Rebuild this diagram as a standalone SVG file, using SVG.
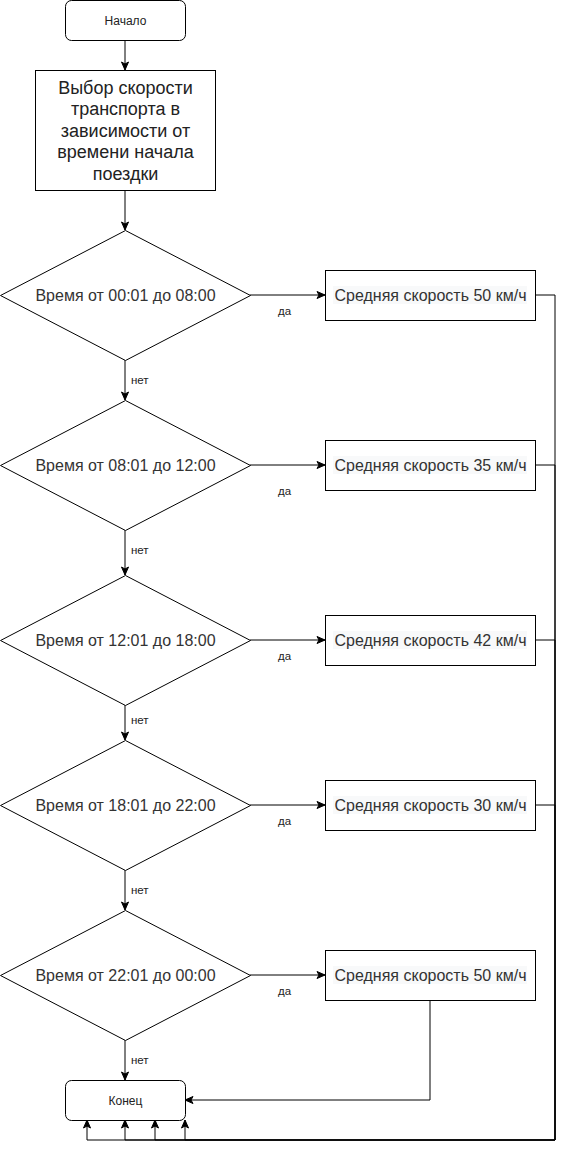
<svg xmlns="http://www.w3.org/2000/svg" width="564" height="1149" viewBox="0 0 564 1149">
<style>
.shape{fill:#fff;stroke:#000;stroke-width:1}
.t{font-family:"Liberation Sans",Arial,sans-serif;fill:#333;text-anchor:middle;dominant-baseline:central}
.big{font-size:16px}
.proc{font-size:18px;fill:#222}
.small{font-size:12px;fill:#222}
.lbl{font-family:"Liberation Sans",Arial,sans-serif;font-size:11.5px;fill:#222;dominant-baseline:central}
.hl{fill:#f8f9fa}
.c{fill:none;stroke:#000;stroke-width:1}
</style>
<defs>
<marker id="arr" markerUnits="userSpaceOnUse" markerWidth="10" markerHeight="10" viewBox="0 0 10 10" refX="9" refY="5" orient="auto">
<path d="M1,1.5 L9,5 L1,8.5 L3,5 Z" fill="#000" stroke="#000" stroke-width="1"/>
</marker>
</defs>
<rect width="564" height="1149" fill="#fff"/>
<g id="connectors">
<path class="c" d="M125,40 V70" marker-end="url(#arr)"/>
<path class="c" d="M125,190 V230" marker-end="url(#arr)"/>
<path class="c" d="M250,295 H325" marker-end="url(#arr)"/>
<path class="c" d="M250,465 H325" marker-end="url(#arr)"/>
<path class="c" d="M250,640 H325" marker-end="url(#arr)"/>
<path class="c" d="M250,805 H325" marker-end="url(#arr)"/>
<path class="c" d="M250,975 H325" marker-end="url(#arr)"/>
<path class="c" d="M125,360 V400" marker-end="url(#arr)"/>
<path class="c" d="M125,530 V575" marker-end="url(#arr)"/>
<path class="c" d="M125,705 V740" marker-end="url(#arr)"/>
<path class="c" d="M125,870 V910" marker-end="url(#arr)"/>
<path class="c" d="M125,1040 V1080" marker-end="url(#arr)"/>
<path class="c" d="M535,295 H555 V1140 H87 V1120" marker-end="url(#arr)"/>
<path class="c" d="M535,465 H555 V1140 H125 V1120" marker-end="url(#arr)"/>
<path class="c" d="M535,640 H555 V1140 H155 V1120" marker-end="url(#arr)"/>
<path class="c" d="M535,805 H555 V1140 H185 V1120" marker-end="url(#arr)"/>
<path class="c" d="M430,1000 V1100 H185" marker-end="url(#arr)"/>
<text class="lbl" x="278" y="311">да</text>
<text class="lbl" x="278" y="491">да</text>
<text class="lbl" x="278" y="656">да</text>
<text class="lbl" x="278" y="821">да</text>
<text class="lbl" x="278" y="991">да</text>
<text class="lbl" x="131" y="380">нет</text>
<text class="lbl" x="131" y="550">нет</text>
<text class="lbl" x="131" y="720">нет</text>
<text class="lbl" x="131" y="890">нет</text>
<text class="lbl" x="131" y="1060">нет</text>
</g>
<g id="start">
<rect class="shape" x="65.5" y="0.5" width="120" height="40" rx="6"/>
<text class="t small" x="125.5" y="20.5">Начало</text>
</g>
<g id="choose">
<rect class="shape" x="35.5" y="70.5" width="180" height="120"/>
<text class="t proc" x="125.5" y="87.5">Выбор скорости</text>
<text class="t proc" x="125.5" y="109">транспорта в</text>
<text class="t proc" x="125.5" y="130.5">зависимости от</text>
<text class="t proc" x="125.5" y="152">времени начала</text>
<text class="t proc" x="125.5" y="173.5">поездки</text>
</g>
<g id="d1">
<path class="shape" d="M125.5,230.5 L250.5,295.5 L125.5,360.5 L0.5,295.5 Z"/>
<text class="t big" x="125.5" y="295.5">Время от 00:01 до 08:00</text>
</g>
<g id="b1">
<rect class="shape" x="325.5" y="270.5" width="210" height="50"/>
<rect class="hl" x="333" y="286" width="194" height="18"/>
<text class="t big" x="430.5" y="295.5">Средняя скорость 50 км/ч</text>
</g>
<g id="d2">
<path class="shape" d="M125.5,400.5 L250.5,465.5 L125.5,530.5 L0.5,465.5 Z"/>
<text class="t big" x="125.5" y="465.5">Время от 08:01 до 12:00</text>
</g>
<g id="b2">
<rect class="shape" x="325.5" y="440.5" width="210" height="50"/>
<rect class="hl" x="333" y="456" width="194" height="18"/>
<text class="t big" x="430.5" y="465.5">Средняя скорость 35 км/ч</text>
</g>
<g id="d3">
<path class="shape" d="M125.5,575.5 L250.5,640.5 L125.5,705.5 L0.5,640.5 Z"/>
<text class="t big" x="125.5" y="640.5">Время от 12:01 до 18:00</text>
</g>
<g id="b3">
<rect class="shape" x="325.5" y="615.5" width="210" height="50"/>
<rect class="hl" x="333" y="631" width="194" height="18"/>
<text class="t big" x="430.5" y="640.5">Средняя скорость 42 км/ч</text>
</g>
<g id="d4">
<path class="shape" d="M125.5,740.5 L250.5,805.5 L125.5,870.5 L0.5,805.5 Z"/>
<text class="t big" x="125.5" y="805.5">Время от 18:01 до 22:00</text>
</g>
<g id="b4">
<rect class="shape" x="325.5" y="780.5" width="210" height="50"/>
<rect class="hl" x="333" y="796" width="194" height="18"/>
<text class="t big" x="430.5" y="805.5">Средняя скорость 30 км/ч</text>
</g>
<g id="d5">
<path class="shape" d="M125.5,910.5 L250.5,975.5 L125.5,1040.5 L0.5,975.5 Z"/>
<text class="t big" x="125.5" y="975.5">Время от 22:01 до 00:00</text>
</g>
<g id="b5">
<rect class="shape" x="325.5" y="950.5" width="210" height="50"/>
<rect class="hl" x="333" y="966" width="194" height="18"/>
<text class="t big" x="430.5" y="975.5">Средняя скорость 50 км/ч</text>
</g>
<g id="end">
<rect class="shape" x="65.5" y="1080.5" width="120" height="40" rx="6"/>
<text class="t small" x="125.5" y="1100.5">Конец</text>
</g>
</svg>
